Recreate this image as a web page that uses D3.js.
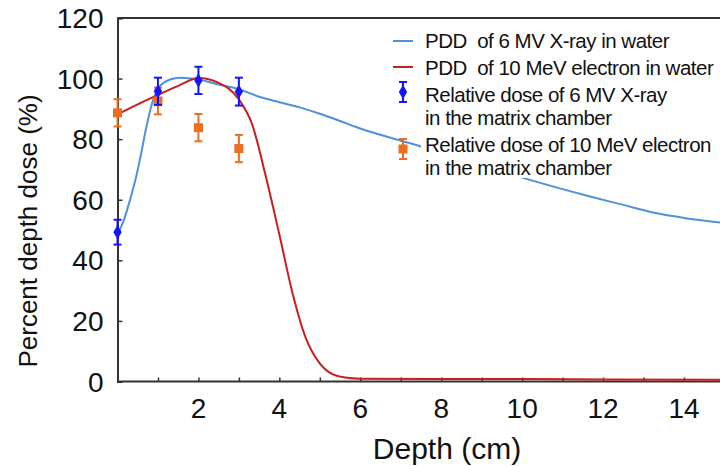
<!DOCTYPE html>
<html>
<head>
<meta charset="utf-8">
<script src="https://cdn.jsdelivr.net/npm/d3@7"></script>
<style>
  body { margin: 0; background: #fff; }
  svg { display: block; font-family: Arial, "Liberation Sans", sans-serif; }
</style>
</head>
<body>
<svg id="chart" width="720" height="466"></svg>
<script>
// PDD curve of 6 MV X-ray in water (depth cm, dose %)
const xrayDepth = [0, 0.15, 0.31, 0.45, 0.55, 0.72, 0.88, 1.05, 1.3, 1.55, 2.0, 2.5, 3, 3.5, 4, 4.5, 5, 5.5, 6, 7, 7.5, 8, 9, 10, 11, 11.7, 12.5, 13.3, 14, 15];
const xrayDose = [48.5, 53, 60, 67, 73, 84.4, 93, 97.5, 99.7, 100.3, 99.7, 98, 96.5, 94, 92.2, 90.5, 88.4, 86, 83.5, 79.5, 77.6, 75.5, 71.3, 67.3, 63.5, 61, 58.3, 55.6, 54, 52.3];

// PDD curve of 10 MeV electron in water
const elecDepth = [0, 0.5, 1, 1.5, 2, 2.5, 3, 3.33, 3.66, 4, 4.32, 4.65, 4.97, 5.3, 5.63, 6, 8, 10, 12, 15];
const elecDose = [88.2, 91.5, 94.6, 97.6, 100.2, 98.6, 93.1, 84.8, 68, 48.5, 29.5, 14.5, 6.5, 2.5, 1.3, 0.9, 0.8, 0.8, 0.7, 0.6];

// matrix chamber measurements
const chamberDepth = [0, 1, 2, 3];
const xrayMeas = [49.3, 95.8, 99.4, 95.7];
const xrayErr = [4.1, 4.5, 4.5, 4.6];
const elecMeas = [88.7, 92.6, 83.8, 76.9];
const elecErr = [4.5, 4.4, 4.5, 4.5];

const xTicks = [2, 4, 6, 8, 10, 12, 14];
const yTicks = [0, 20, 40, 60, 80, 100, 120];

const legendLabels = [
  ["PDD  of 6 MV X-ray in water"],
  ["PDD  of 10 MeV electron in water"],
  ["Relative dose of 6 MV X-ray", "in the matrix chamber"],
  ["Relative dose of 10 MeV electron", "in the matrix chamber"]
];

const COL = {
  xray: "#4f91dc",
  elec: "#c81e1e",
  xrayMark: "#1414ff",
  elecMark: "#ea7020",
  axis: "#333"
};

const svg = d3.select("#chart");
const x = d3.scaleLinear().domain([0, 14]).range([117.5, 684]);
const y = d3.scaleLinear().domain([0, 120]).range([381.5, 18]);

// top border of the frame
svg.append("line")
  .attr("x1", x(0)).attr("x2", 720).attr("y1", y(120)).attr("y2", y(120))
  .attr("stroke", COL.axis).attr("stroke-width", 2);

const xAxis = svg.append("g")
  .attr("transform", `translate(0,${y(0)})`)
  .call(d3.axisBottom(x).tickValues(d3.range(1, 16)).tickSize(-4).tickFormat(""));
xAxis.select(".domain").attr("stroke", COL.axis).attr("stroke-width", 2)
  .attr("d", `M${x(0)},0H720`);
xAxis.selectAll(".tick line").attr("stroke", COL.axis).attr("stroke-width", 1.5);

svg.append("g").selectAll("text")
  .data(xTicks)
  .join("text")
  .attr("x", d => x(d))
  .attr("y", y(0) + 36)
  .attr("text-anchor", "middle")
  .attr("font-size", 28)
  .attr("fill", "#111")
  .text(d => d);

const yAxis = svg.append("g")
  .attr("transform", `translate(${x(0)},0)`)
  .call(d3.axisLeft(y).tickValues(yTicks).tickSize(-5).tickFormat(""));
yAxis.select(".domain").attr("stroke", COL.axis).attr("stroke-width", 2);
yAxis.selectAll(".tick line").attr("stroke", COL.axis).attr("stroke-width", 1.5);

svg.append("g").selectAll("text")
  .data(yTicks)
  .join("text")
  .attr("x", x(0) - 14)
  .attr("y", d => y(d) + 10)
  .attr("text-anchor", "end")
  .attr("font-size", 28)
  .attr("fill", "#111")
  .text(d => d);

// axis titles
svg.append("text")
  .attr("x", 447)
  .attr("y", 459)
  .attr("text-anchor", "middle")
  .attr("font-size", 30)
  .attr("fill", "#111")
  .text("Depth (cm)");

svg.append("text")
  .attr("transform", `translate(37,231) rotate(-90)`)
  .attr("text-anchor", "middle")
  .attr("font-size", 26)
  .attr("fill", "#111")
  .text("Percent depth dose (%)");

// curves
const line = d3.line()
  .x(d => x(d[0]))
  .y(d => y(d[1]))
  .curve(d3.curveMonotoneX);

svg.append("path")
  .datum(d3.zip(xrayDepth, xrayDose))
  .attr("d", line)
  .attr("fill", "none")
  .attr("stroke", COL.xray)
  .attr("stroke-width", 2);

svg.append("path")
  .datum(d3.zip(elecDepth, elecDose))
  .attr("d", line)
  .attr("fill", "none")
  .attr("stroke", COL.elec)
  .attr("stroke-width", 2);

// error bars + markers
function errorBars(vals, errs, color) {
  const g = svg.append("g").attr("stroke", color).attr("stroke-width", 2);
  chamberDepth.forEach((d, i) => {
    const cx = x(d);
    g.append("line").attr("x1", cx).attr("x2", cx)
      .attr("y1", y(vals[i] + errs[i])).attr("y2", y(vals[i] - errs[i]));
    g.append("line").attr("x1", cx - 4).attr("x2", cx + 4)
      .attr("y1", y(vals[i] + errs[i])).attr("y2", y(vals[i] + errs[i]));
    g.append("line").attr("x1", cx - 4).attr("x2", cx + 4)
      .attr("y1", y(vals[i] - errs[i])).attr("y2", y(vals[i] - errs[i]));
  });
}

errorBars(elecMeas, elecErr, COL.elecMark);
svg.append("g").selectAll("rect")
  .data(chamberDepth)
  .join("rect")
  .attr("x", d => x(d) - 4.5)
  .attr("y", (d, i) => y(elecMeas[i]) - 4.5)
  .attr("width", 9)
  .attr("height", 9)
  .attr("fill", COL.elecMark);

errorBars(xrayMeas, xrayErr, COL.xrayMark);
const diamond = d3.symbol().type(d3.symbolDiamond).size(60);
svg.append("g").selectAll("path")
  .data(chamberDepth)
  .join("path")
  .attr("transform", (d, i) => `translate(${x(d)},${y(xrayMeas[i])})`)
  .attr("d", diamond)
  .attr("fill", COL.xrayMark);

// legend
const legend = svg.append("g");
legend.append("rect")
  .attr("x", 421).attr("y", 27)
  .attr("width", 299).attr("height", 151)
  .attr("fill", "#fff");

const rowBase = [48, 75, 101.5, 151.5];
legendLabels.forEach((lines, i) => {
  lines.forEach((t, j) => {
    legend.append("text")
      .attr("x", 425)
      .attr("y", rowBase[i] + j * 23)
      .attr("font-size", 20.5)
      .attr("letter-spacing", -0.5)
      .style("white-space", "pre")
      .attr("fill", "#111")
      .text(t);
  });
});

const symX = 403;
legend.append("line").attr("x1", 393).attr("x2", 413).attr("y1", 41).attr("y2", 41)
  .attr("stroke", COL.xray).attr("stroke-width", 2);
legend.append("line").attr("x1", 393).attr("x2", 413).attr("y1", 67).attr("y2", 67)
  .attr("stroke", COL.elec).attr("stroke-width", 2);

[[92, COL.xrayMark], [149, COL.elecMark]].forEach(([cy, c]) => {
  const g = legend.append("g").attr("stroke", c).attr("stroke-width", 2);
  g.append("line").attr("x1", symX).attr("x2", symX).attr("y1", cy - 10).attr("y2", cy + 10);
  g.append("line").attr("x1", symX - 4).attr("x2", symX + 4).attr("y1", cy - 10).attr("y2", cy - 10);
  g.append("line").attr("x1", symX - 4).attr("x2", symX + 4).attr("y1", cy + 10).attr("y2", cy + 10);
});
legend.append("path")
  .attr("transform", `translate(${symX},92)`)
  .attr("d", diamond)
  .attr("fill", COL.xrayMark);
legend.append("rect")
  .attr("x", symX - 4.5).attr("y", 149 - 4.5)
  .attr("width", 9).attr("height", 9)
  .attr("fill", COL.elecMark);
</script>
</body>
</html>
